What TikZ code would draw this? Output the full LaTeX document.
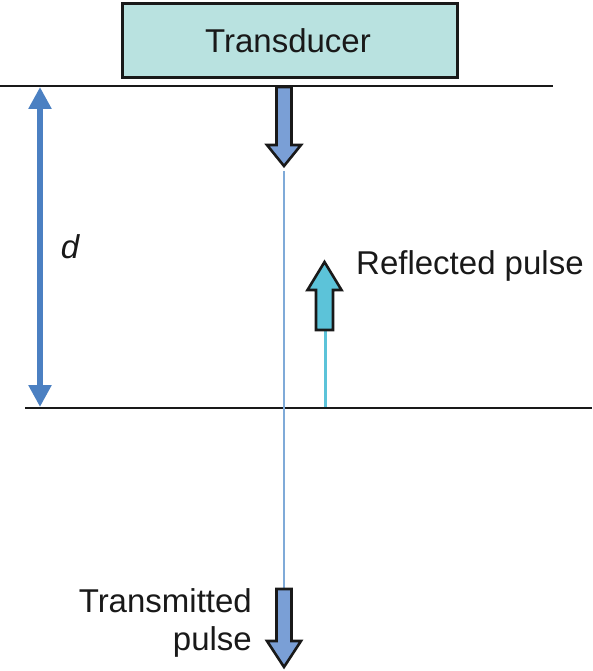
\documentclass[tikz,border=0pt]{standalone}
\usepackage{fontspec}
\setmainfont{Liberation Sans}
\usetikzlibrary{arrows.meta}
\definecolor{boxfill}{HTML}{B9E2E0}
\definecolor{downblue}{HTML}{7A9FD6}
\definecolor{thinblue}{HTML}{7FAAD8}
\definecolor{dblue}{HTML}{4B80C2}
\definecolor{upcyan}{HTML}{5CC3D9}
\tikzset{
  lbl/.style={font=\fontsize{33}{38}\selectfont, text=black!90, inner sep=0pt},
  surface/.style={line width=2.6pt, draw=black!90},
  blockarrow/.style={draw=black!90, line width=2.6pt, line join=miter},
}
\begin{document}
\begin{tikzpicture}[x=1pt,y=-1pt]
\useasboundingbox (0,0) rectangle (592,671);
% transducer
\node[draw=black!90, line width=2.6pt, fill=boxfill, minimum width=335pt, minimum height=74pt, anchor=north west, inner sep=0pt] (tr) at (121,2) {};
\node[lbl] (trt) at (288,41) {Transducer};
% surfaces
\coordinate (s1a) at (0,86); \coordinate (s1b) at (553,86);
\coordinate (s2a) at (25,408); \coordinate (s2b) at (592,408);
\draw[surface] (s1a) -- (s1b);
\draw[surface] (s2a) -- (s2b);
% thin transmitted line
\coordinate (t1) at (284,171); \coordinate (t2) at (284,590);
\draw[thinblue, line width=2.5pt] (t1) -- (t2);
% d arrow
\coordinate (d1) at (40,87); \coordinate (d2) at (40,407);
\draw[dblue, line width=5.5pt, {Triangle[length=22pt,width=22pt]}-{Triangle[length=22pt,width=22pt]}] (d1) -- (d2);
\node[lbl, font=\fontsize{33}{38}\selectfont\itshape] (d) at (70,247) {d};
% top down arrow
\draw[blockarrow, fill=downblue] (276.5,87) -- (291.5,87) -- (291.5,145) -- (301,145) -- (284,166) -- (267,145) -- (276.5,145) -- cycle;
% reflected pulse
\coordinate (r1) at (325,407); \coordinate (r2) at (325,331);
\draw[upcyan, line width=3pt] (r1) -- (r2);
\draw[blockarrow, fill=upcyan] (316,330) -- (333,330) -- (333,290) -- (341.5,290) -- (324.5,262) -- (307.5,290) -- (316,290) -- cycle;
\node[lbl, anchor=west] (rp) at (356,266) {Reflected pulse};
% bottom arrow
\draw[blockarrow, fill=downblue] (276.5,589) -- (291.5,589) -- (291.5,641) -- (301,641) -- (284,667) -- (267,641) -- (276.5,641) -- cycle;
\node[lbl, anchor=east, align=right] (tp) at (252,623) {Transmitted\\pulse};
\end{tikzpicture}
\end{document}
